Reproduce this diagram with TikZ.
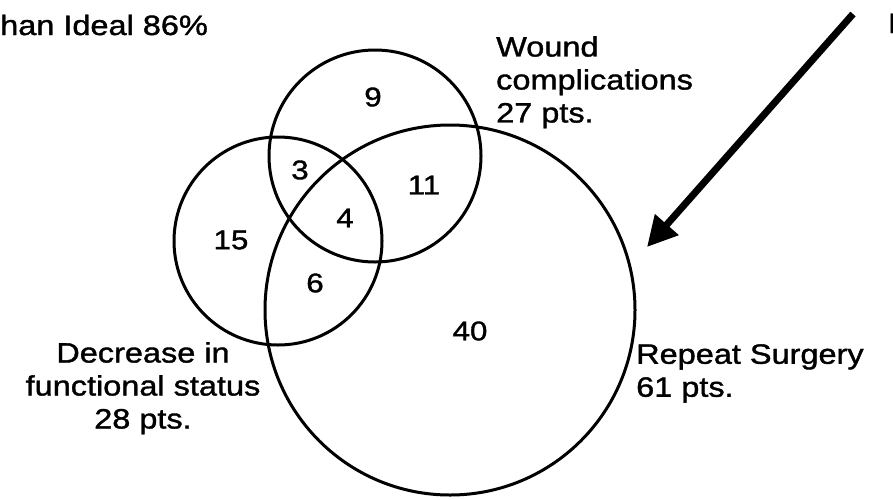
\documentclass[tikz,border=0pt]{standalone}
\usepackage{fontspec}
\setmainfont{Liberation Sans}[FakeStretch=1.16,FakeBold=1.3]
\usetikzlibrary{arrows.meta}
\begin{document}
\begin{tikzpicture}[x=1pt,y=-1pt,
  venn/.style={draw=black,line width=3pt},
  lbl/.style={inner sep=0pt,font=\fontsize{28}{33}\selectfont},
  num/.style={inner sep=0pt,font=\fontsize{27}{30}\selectfont},
  bigarrow/.style={line width=7pt,-{Triangle[length=30pt,width=30pt]}}]
\useasboundingbox (0,0) rectangle (893,499);
\fill[white] (0,0) rectangle (893,499);
% circles
\draw[venn] (375,156) circle[radius=106pt];
\draw[venn] (278,241) circle[radius=104pt];
\draw[venn] (450,310) circle[radius=185pt];
% region numbers
\node[num] (n9) at (373,97) {9};
\node[num] (n3) at (300,170) {3};
\node[num] (n11) at (424,185) {11};
\node[num] (n15) at (231,240) {15};
\node[num] (n4) at (345,218) {4};
\node[num] (n6) at (315,283) {6};
\node[num] (n40) at (470,331) {40};
% labels
\node[lbl,anchor=base west] (top) at (0,35) {han Ideal 86\%};
\node[lbl,anchor=base west] (cut) at (888,33) {E};
\node[lbl,anchor=north west,align=left] (wound) at (496,36) {Wound\\complications\\27 pts.};
\node[lbl,anchor=north,align=center] (decr) at (143,342) {Decrease in\\functional status\\28 pts.};
\node[lbl,anchor=north west,align=left] (rep) at (636,344) {Repeat Surgery\\61 pts.};
% arrow
\coordinate (as) at (853,14);
\coordinate (ae) at (647,247);
\draw[bigarrow] (as) -- (ae);
\end{tikzpicture}
\end{document}
